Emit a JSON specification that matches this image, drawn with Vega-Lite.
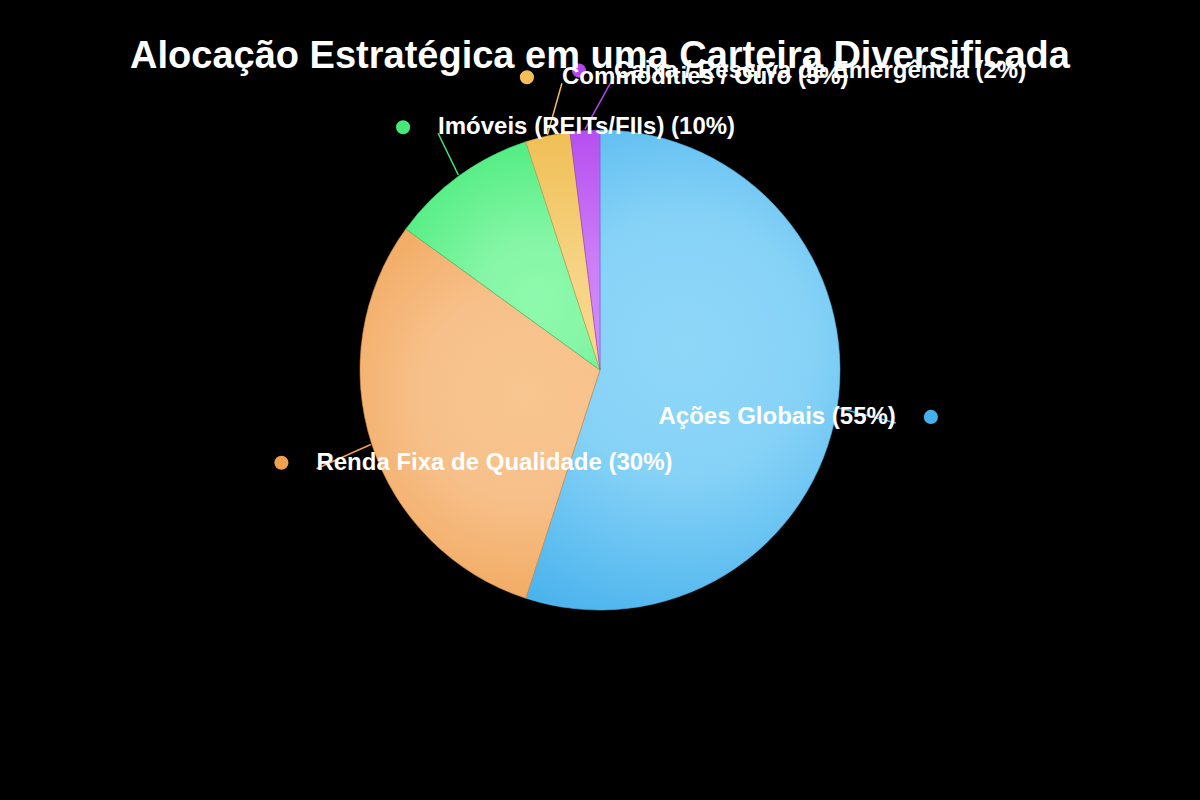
{
  "$schema": "https://vega.github.io/schema/vega-lite/v6.json",
  "width": 1200,
  "height": 740,
  "autosize": {"type": "none"},
  "padding": {"left": 0, "right": 0, "top": 0, "bottom": 60},
  "background": "#000000",
  "config": {"view": {"stroke": null}},
  "title": {
    "text": "Alocação Estratégica em uma Carteira Diversificada",
    "color": "#ffffff",
    "font": "Liberation Sans",
    "fontSize": 38,
    "fontWeight": "bold",
    "anchor": "middle",
    "baseline": "alphabetic",
    "offset": -106
  },
  "data": {
    "values": [
      {"categoria": "Ações Globais", "valor": 55, "ordem": 1, "rotulo": "Ações Globais (55%)"},
      {"categoria": "Renda Fixa de Qualidade", "valor": 30, "ordem": 2, "rotulo": "Renda Fixa de Qualidade (30%)"},
      {"categoria": "Imóveis (REITs/FIIs)", "valor": 10, "ordem": 3, "rotulo": "Imóveis (REITs/FIIs) (10%)"},
      {"categoria": "Commodities / Ouro", "valor": 3, "ordem": 4, "rotulo": "Commodities / Ouro (3%)"},
      {"categoria": "Caixa / Reserva de Emergência", "valor": 2, "ordem": 5, "rotulo": "Caixa / Reserva de Emergência (2%)"}
    ]
  },
  "transform": [
    {"stack": "valor", "groupby": [], "sort": [{"field": "ordem", "order": "ascending"}], "as": ["v0", "v1"]},
    {"calculate": "PI * (datum.v0 + datum.v1) / 100", "as": "ang"},
    {"calculate": "335 * sin(datum.ang)", "as": "px"},
    {"calculate": "300 * cos(datum.ang)", "as": "py"},
    {"calculate": "241 * sin(datum.ang)", "as": "lx0"},
    {"calculate": "241 * cos(datum.ang)", "as": "ly0"},
    {"calculate": "datum.px + (sin(datum.ang) >= 0 ? -35 : 35)", "as": "tx"},
    {"calculate": "datum.py - 6", "as": "ly1"},
    {"calculate": "sin(datum.ang) >= 0 ? 'dir' : 'esq'", "as": "lado"}
  ],
  "layer": [
    {
      "transform": [{"filter": "datum.ordem == 1"}],
      "mark": {"type": "arc", "outerRadius": 240, "stroke": "#4fb3e8", "strokeWidth": 0.6,
        "fill": {"gradient": "radial", "x1": 0.5, "y1": 0.45, "r1": 0, "x2": 0.5, "y2": 0.45, "r2": 0.6,
          "stops": [{"offset": 0, "color": "#8fd7f9"}, {"offset": 0.45, "color": "#86d2f7"}, {"offset": 1, "color": "#4cb4ed"}]}},
      "encoding": {
        "theta": {"field": "v0", "type": "quantitative", "scale": {"domain": [0, 100]}},
        "theta2": {"field": "v1"}
      }
    },
    {
      "transform": [{"filter": "datum.ordem == 2"}],
      "mark": {"type": "arc", "outerRadius": 240, "stroke": "#d98e45", "strokeWidth": 0.6,
        "fill": {"gradient": "radial", "x1": 0.62, "y1": 0.45, "r1": 0, "x2": 0.62, "y2": 0.45, "r2": 0.7,
          "stops": [{"offset": 0, "color": "#f8c690"}, {"offset": 0.4, "color": "#f7c08a"}, {"offset": 1, "color": "#efa150"}]}},
      "encoding": {
        "theta": {"field": "v0", "type": "quantitative", "scale": {"domain": [0, 100]}},
        "theta2": {"field": "v1"}
      }
    },
    {
      "transform": [{"filter": "datum.ordem == 3"}],
      "mark": {"type": "arc", "outerRadius": 240, "stroke": "#3fc96a", "strokeWidth": 0.6,
        "fill": {"gradient": "radial", "x1": 0.65, "y1": 0.7, "r1": 0, "x2": 0.65, "y2": 0.7, "r2": 0.75,
          "stops": [{"offset": 0, "color": "#8ef9ac"}, {"offset": 0.35, "color": "#86f6a6"}, {"offset": 1, "color": "#4dec7f"}]}},
      "encoding": {
        "theta": {"field": "v0", "type": "quantitative", "scale": {"domain": [0, 100]}},
        "theta2": {"field": "v1"}
      }
    },
    {
      "transform": [{"filter": "datum.ordem == 4"}],
      "mark": {"type": "arc", "outerRadius": 240, "stroke": "#d6a645", "strokeWidth": 0.6,
        "fill": {"gradient": "linear", "x1": 0.5, "y1": 1, "x2": 0.5, "y2": 0,
          "stops": [{"offset": 0, "color": "#f9d990"}, {"offset": 0.45, "color": "#f6d282"}, {"offset": 1, "color": "#f0bf55"}]}},
      "encoding": {
        "theta": {"field": "v0", "type": "quantitative", "scale": {"domain": [0, 100]}},
        "theta2": {"field": "v1"}
      }
    },
    {
      "transform": [{"filter": "datum.ordem == 5"}],
      "mark": {"type": "arc", "outerRadius": 240, "stroke": "#9c45d0", "strokeWidth": 0.6,
        "fill": {"gradient": "linear", "x1": 0.5, "y1": 1, "x2": 0.5, "y2": 0,
          "stops": [{"offset": 0, "color": "#d68ff9"}, {"offset": 0.45, "color": "#cc7ef6"}, {"offset": 1, "color": "#b64ef0"}]}},
      "encoding": {
        "theta": {"field": "v0", "type": "quantitative", "scale": {"domain": [0, 100]}},
        "theta2": {"field": "v1"}
      }
    },
    {
      "mark": {"type": "rule", "strokeWidth": 1.5},
      "encoding": {
        "x": {"field": "lx0", "type": "quantitative", "scale": {"domain": [-600, 600], "nice": false, "zero": false}, "axis": null},
        "y": {"field": "ly0", "type": "quantitative", "scale": {"domain": [-370, 370], "nice": false, "zero": false}, "axis": null},
        "x2": {"field": "tx"},
        "y2": {"field": "ly1"},
        "color": {"field": "categoria", "type": "nominal", "legend": null,
          "scale": {"domain": ["Ações Globais", "Renda Fixa de Qualidade", "Imóveis (REITs/FIIs)", "Commodities / Ouro", "Caixa / Reserva de Emergência"],
            "range": ["#46b0ec", "#f0a050", "#46e878", "#f2c055", "#b444f0"]}}
      }
    },
    {
      "mark": {"type": "point", "filled": true, "size": 200, "opacity": 1, "shape": "circle"},
      "encoding": {
        "x": {"field": "px", "type": "quantitative", "scale": {"domain": [-600, 600], "nice": false, "zero": false}, "axis": null},
        "y": {"field": "py", "type": "quantitative", "scale": {"domain": [-370, 370], "nice": false, "zero": false}, "axis": null},
        "color": {"field": "categoria", "type": "nominal", "legend": null}
      }
    },
    {
      "transform": [{"filter": "datum.lado == 'dir'"}],
      "mark": {"type": "text", "align": "right", "baseline": "middle", "font": "Liberation Sans", "fontSize": 24, "fontWeight": "bold", "color": "#ffffff"},
      "encoding": {
        "x": {"field": "tx", "type": "quantitative", "scale": {"domain": [-600, 600], "nice": false, "zero": false}, "axis": null},
        "y": {"field": "py", "type": "quantitative", "scale": {"domain": [-370, 370], "nice": false, "zero": false}, "axis": null},
        "text": {"field": "rotulo"}
      }
    },
    {
      "transform": [{"filter": "datum.lado == 'esq'"}],
      "mark": {"type": "text", "align": "left", "baseline": "middle", "font": "Liberation Sans", "fontSize": 24, "fontWeight": "bold", "color": "#ffffff"},
      "encoding": {
        "x": {"field": "tx", "type": "quantitative", "scale": {"domain": [-600, 600], "nice": false, "zero": false}, "axis": null},
        "y": {"field": "py", "type": "quantitative", "scale": {"domain": [-370, 370], "nice": false, "zero": false}, "axis": null},
        "text": {"field": "rotulo"}
      }
    }
  ]
}
